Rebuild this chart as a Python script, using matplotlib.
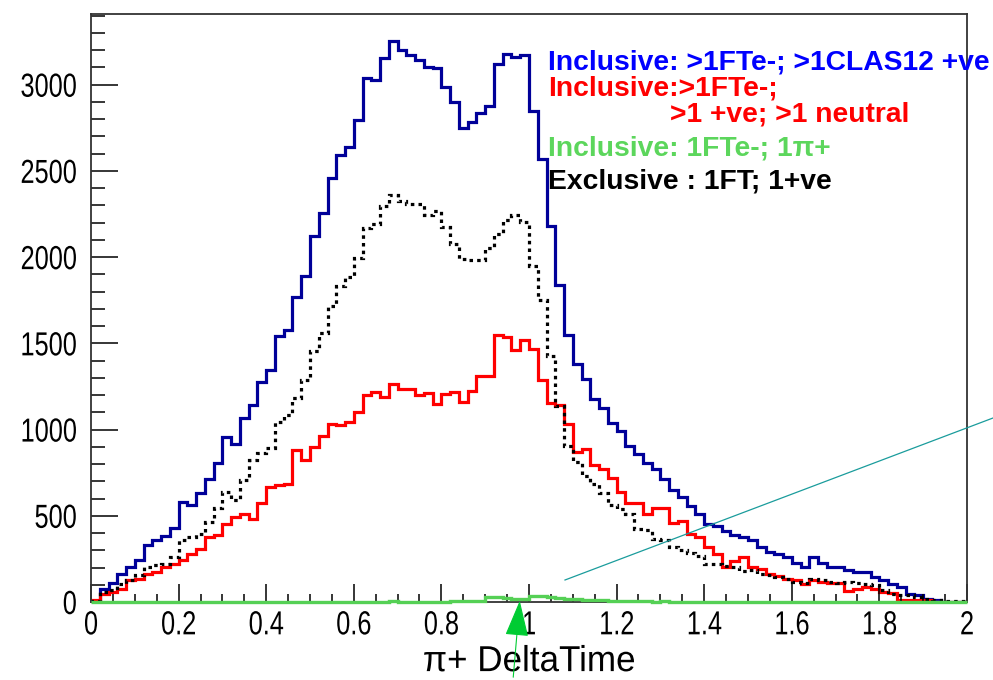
import matplotlib
matplotlib.use("Agg")
import matplotlib.pyplot as plt
import numpy as np
from matplotlib.lines import Line2D
from matplotlib.patches import FancyArrowPatch
from matplotlib.patheffects import AbstractPathEffect
from matplotlib.transforms import Affine2D
from matplotlib.ticker import MultipleLocator

# 100 bins between 0 and 2
n_bins = 100
x_lo, x_hi = 0.0, 2.0

incl_pos = [5, 75, 108, 165, 203, 242, 330, 358, 382, 430,
            578, 562, 630, 711, 804, 959, 917, 1066, 1143, 1273,
            1347, 1545, 1579, 1767, 1890, 2125, 2257, 2458, 2595, 2639,
            2796, 3038, 3030, 3155, 3252, 3200, 3170, 3145, 3105, 3098,
            2987, 2900, 2750, 2783, 2834, 2877, 3118, 3180, 3160, 3170,
            2850, 2570, 2179, 1840, 1547, 1378, 1294, 1180, 1125, 1038,
            992, 905, 860, 805, 770, 712, 651, 610, 556, 513,
            451, 440, 413, 387, 378, 358, 320, 291, 281, 261,
            229, 203, 261, 227, 203, 203, 184, 174, 174, 145,
            126, 107, 87, 48, 39, 19, 10, 0, 0, 0]

incl_neutral = [12, 48, 58, 77, 126, 136, 161, 174, 203, 223,
                242, 281, 310, 378, 387, 455, 494, 513, 484, 577,
                668, 678, 684, 882, 824, 898, 965, 1034, 1026, 1046,
                1102, 1200, 1217, 1190, 1263, 1238, 1238, 1201, 1211, 1151,
                1208, 1217, 1159, 1225, 1308, 1308, 1546, 1538, 1464, 1522,
                1466, 1286, 1153, 1140, 1032, 868, 886, 796, 774, 717,
                639, 575, 575, 513, 548, 545, 459, 471, 397, 378,
                320, 277, 203, 238, 261, 203, 194, 165, 149, 136,
                126, 107, 126, 116, 110, 110, 64, 77, 87, 77,
                58, 52, 14, 14, 14, 10, 2, 0, 0, 0]

incl_pip = [0, 0, 0, 0, 0, 0, 0, 0, 0, 0,
            0, 0, 0, 0, 0, 0, 0, 0, 0, 0,
            0, 0, 0, 0, 0, 0, 0, 0, 0, 0,
            0, 0, 0, 0, 4, 0, 0, 0, 0, 0,
            0, 5, 6, 6, 8, 28, 29, 25, 19, 20,
            32, 33, 30, 25, 19, 18, 10, 10, 9, 8,
            8, 5, 4, 3, 0, 3, 0, 0, 0, 0,
            0, 0, 0, 0, 0, 0, 0, 0, 0, 0,
            0, 0, 0, 0, 0, 0, 0, 0, 0, 0,
            0, 0, 0, 0, 0, 0, 0, 0, 0, 0]

excl = [8, 58, 68, 107, 126, 155, 203, 213, 223, 261,
        362, 378, 397, 465, 548, 639, 591, 707, 823, 862,
        891, 1046, 1085, 1182, 1290, 1455, 1559, 1715, 1832, 1887,
        1996, 2170, 2192, 2298, 2360, 2324, 2306, 2306, 2242, 2267,
        2175, 2077, 1990, 1984, 1984, 2052, 2134, 2218, 2246, 2205,
        1950, 1752, 1425, 1135, 906, 810, 733, 687, 631, 564,
        538, 510, 422, 420, 367, 360, 320, 300, 285, 265,
        222, 219, 207, 203, 180, 184, 165, 155, 145, 136,
        116, 110, 136, 126, 116, 110, 116, 110, 103, 97,
        68, 48, 39, 43, 29, 19, 10, 4, 4, 4]

labels = ["Inclusive: >1FTe-; >1CLAS12 +ve",
          "Inclusive:>1FTe-;",
          ">1 +ve; >1 neutral",
          "Inclusive: 1FTe-; 1\u03c0+",
          "Exclusive : 1FT; 1+ve"]
xtick_labels = ["0", "0.2", "0.4", "0.6", "0.8", "1", "1.2", "1.4", "1.6", "1.8", "2"]


class Narrow(AbstractPathEffect):
    """squeeze text horizontally, like the narrow ROOT font"""
    def __init__(self, sx, anchor="center"):
        super().__init__()
        self.sx = sx
        self.anchor = anchor

    def draw_path(self, renderer, gc, tpath, affine, rgbFace=None):
        ext = tpath.get_extents()
        cx = ext.x1 if self.anchor == "right" else 0.5 * (ext.x0 + ext.x1)
        t = Affine2D().translate(-cx, 0).scale(self.sx, 1).translate(cx, 0)
        renderer.draw_path(gc, tpath, t + affine, rgbFace)


edges = np.linspace(x_lo, x_hi, n_bins + 1)

plt.rcParams["font.family"] = ["Liberation Sans", "DejaVu Sans"]

fig = plt.figure(figsize=(9.93, 6.8), dpi=100)
ax = fig.add_axes([91 / 993, 1 - 602 / 680, (967 - 91) / 993, (602 - 14) / 680])

ax.stairs(incl_pos, edges, color="#000099", lw=2.3, baseline=0)
ax.stairs(incl_neutral, edges, color="#ff0000", lw=2.3, baseline=0)
ax.stairs(excl, edges, color="black", lw=2.3, linestyle=(0, (1.1, 1.3)), baseline=0)
ax.stairs(incl_pip, edges, color="#55d055", lw=2.4, baseline=0, zorder=3, clip_on=False)

ax.set_xlim(x_lo, x_hi)
ax.set_ylim(0, 3410)
ax.xaxis.set_major_locator(MultipleLocator(0.2))
ax.xaxis.set_minor_locator(MultipleLocator(0.05))
ax.yaxis.set_major_locator(MultipleLocator(500))
ax.yaxis.set_minor_locator(MultipleLocator(100))
ax.set_xticks(np.arange(0, 2.01, 0.2))
ax.set_xticklabels(xtick_labels)

ax.tick_params(which="both", direction="in", top=False, right=False, width=1.1, colors="black", labelsize=24)
ax.tick_params(axis="y", which="major", length=19.5, pad=10)
ax.tick_params(axis="y", which="minor", length=10)
ax.tick_params(axis="x", which="major", length=13, pad=6)
ax.tick_params(axis="x", which="minor", length=6)
for lab in ax.get_yticklabels():
    lab.set_path_effects([Narrow(0.76, "right")])
for lab in ax.get_xticklabels():
    lab.set_path_effects([Narrow(0.76, "center")])

for s in ax.spines.values():
    s.set_color("#333333")
    s.set_linewidth(1.3)

ax.set_xlabel("\u03c0+ DeltaTime", fontsize=26, labelpad=2)
ax.xaxis.label.set_path_effects([Narrow(0.97, "center")])

# legend-like texts (ROOT TLatex)
txt_kw = dict(transform=fig.transFigure, fontsize=20.3, fontweight="bold", ha="left", va="center",
              zorder=2, clip_on=False)
fig.text(548 / 993, 1 - 62 / 680, labels[0], color="#0000ff", **txt_kw)
fig.text(548 / 993, 1 - 89 / 680, labels[1], color="#ff0000", **txt_kw)
fig.text(670 / 993, 1 - 114 / 680, labels[2], color="#ff0000", **txt_kw)
fig.text(548 / 993, 1 - 148 / 680, labels[3], color="#5cd65c", **txt_kw)
fig.text(548 / 993, 1 - 182 / 680, labels[4], color="black", **txt_kw)

# stray canvas drawings
fig.add_artist(Line2D([565 / 993, 1.0], [1 - 580 / 680, 1 - 418 / 680],
                      transform=fig.transFigure, color="#1a9c9c", lw=0.9))
arrow = FancyArrowPatch((513 / 993, 0.0), (520 / 993, 1 - 598 / 680),
                        transform=fig.transFigure, arrowstyle="-|>,head_length=23,head_width=7.5",
                        mutation_scale=1, color="#00cc33", lw=0.8)
fig.add_artist(arrow)

fig.savefig("out.png", dpi=100)
